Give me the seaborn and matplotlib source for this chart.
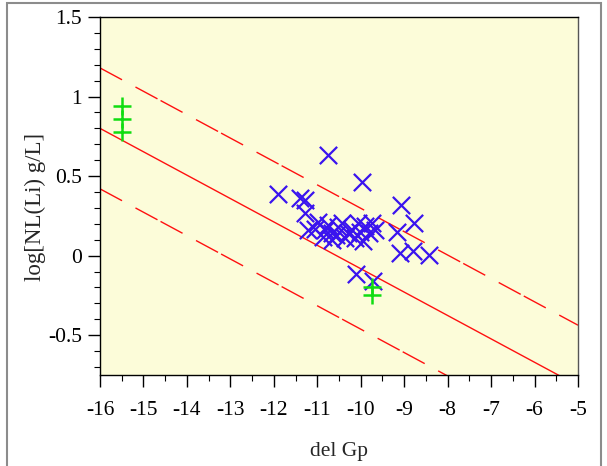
import numpy as np
import pandas as pd
import matplotlib
matplotlib.use("Agg")
import matplotlib.pyplot as plt
import seaborn as sns
from matplotlib.patches import Rectangle

# Measured samples (blue crosses)
sample_dg = [-10.75, -9.98, -11.91, -11.40, -11.28, -11.28, -11.22, -10.98, -10.82,
             -10.66, -10.87, -10.52, -10.66, -10.75, -10.44, -10.29, -10.36, -10.21,
             -10.06, -9.90, -9.82, -9.75, -10.13, -9.94, -9.67, -10.02, -9.08, -8.78,
             -9.17, -9.10, -8.79, -8.44, -10.11, -9.71, -11.05, -10.58]
sample_lognl = [0.635, 0.46, 0.388, 0.365, 0.35, 0.27, 0.16, 0.21, 0.16,
                0.145, 0.12, 0.18, 0.10, 0.19, 0.206, 0.145, 0.11, 0.164,
                0.206, 0.184, 0.143, 0.206, 0.11, 0.09, 0.16, 0.15, 0.316, 0.205,
                0.147, 0.017, 0.027, 0.006, -0.113, -0.16, 0.17, 0.13]

# Reference glasses (green plus signs)
ref_dg = [-15.5, -15.5, -15.5, -9.75, -9.75]
ref_lognl = [0.94, 0.86, 0.78, -0.20, -0.25]

# Linear trend and its band
fit_intercept = -1.552
fit_slope = -0.147
band_halfwidth = 0.38

x_ticks = [-16, -15, -14, -13, -12, -11, -10, -9, -8, -7, -6, -5]
x_tick_labels = ["-16", "-15", "-14", "-13", "-12", "-11", "-10", "-9", "-8", "-7", "-6", "-5"]
y_ticks = [-0.5, 0, 0.5, 1, 1.5]
y_tick_labels = ["-0.5", "0", "0.5", "1", "1.5"]

sns.set_style("ticks")
plt.rcParams["font.family"] = ["Liberation Serif", "DejaVu Serif"]
plt.rcParams["axes.unicode_minus"] = False

fig = plt.figure(figsize=(6.07, 4.66), dpi=100)
ax = fig.add_axes([100 / 607, 1 - 375 / 466, 478 / 607, 358 / 466])
ax.set_facecolor("#FCFCD9")

# trend line and dashed band
xs = np.linspace(x_ticks[0], x_ticks[-1], 200)
trend = pd.DataFrame({"x": xs, "y": fit_intercept + fit_slope * xs})
sns.lineplot(data=trend, x="x", y="y", color="#FF1010", lw=1.0, ax=ax)
for sign in (1, -1):
    band = pd.DataFrame({"x": xs, "y": fit_intercept + fit_slope * xs + sign * band_halfwidth})
    sns.lineplot(data=band, x="x", y="y", color="#FF1010", lw=1.0, ax=ax,
                 dashes=False, linestyle=(0, (18, 11, 18, 2.5)))

samples = pd.DataFrame({"dg": sample_dg, "lognl": sample_lognl})
sns.scatterplot(data=samples, x="dg", y="lognl", marker="x", s=155,
                color="#3A14EE", linewidth=1.6, ax=ax, zorder=3)
refs = pd.DataFrame({"dg": ref_dg, "lognl": ref_lognl})
sns.scatterplot(data=refs, x="dg", y="lognl", marker="+", s=170,
                color="#10DD10", linewidth=1.8, ax=ax, zorder=4)

ax.set_xlim(-16, -5)
ax.set_ylim(-0.75, 1.5)
ax.set_xticks(x_ticks)
ax.set_xticklabels(x_tick_labels)
ax.set_yticks(y_ticks)
ax.set_yticklabels(y_tick_labels)
ax.set_xticks(np.arange(-15.5, -5, 1.0), minor=True)
ax.set_yticks(np.arange(-0.7, 1.5, 0.1), minor=True)
ax.tick_params(which="major", direction="out", length=8.5, width=1.0, labelsize=15.5,
               colors="black")
ax.tick_params(axis="x", which="major", pad=10)
ax.tick_params(axis="y", which="major", pad=4.5)
ax.tick_params(which="minor", direction="out", length=4.3, width=0.8, colors="black")
ax.tick_params(top=False, right=False, which="both")

for side in ("left", "bottom", "top"):
    ax.spines[side].set_visible(True)
    ax.spines[side].set_color("black")
    ax.spines[side].set_linewidth(1.0)
ax.spines["right"].set_visible(True)
ax.spines["right"].set_color("#555555")
ax.spines["right"].set_linewidth(1.0)

ax.set_xlabel("del Gp", fontsize=15.5, labelpad=16)
ax.set_ylabel("log[NL(Li) g/L]", fontsize=16.5)
ax.yaxis.set_label_coords(-54 / 478, 0.47)

fig.patches.append(Rectangle((7 / 607, -0.05), 594 / 607, 1.05 - 3 / 466,
                             transform=fig.transFigure, fill=False,
                             edgecolor="#8C8C8C", lw=1.5))

fig.savefig("out.png", dpi=100)
